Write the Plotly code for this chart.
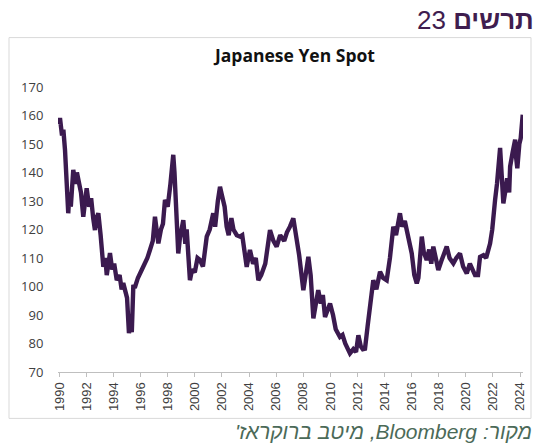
import plotly.graph_objects as go

# ---- data (decimal year, JPY per USD) ----
years = [1990.0, 1990.05, 1990.2, 1990.3, 1990.42, 1990.55, 1990.66, 1990.75, 1990.85,
         1991.03, 1991.2, 1991.3, 1991.4, 1991.6, 1991.77, 1991.9, 1992.02, 1992.2,
         1992.35, 1992.5, 1992.63, 1992.75, 1992.88, 1993.05, 1993.25, 1993.4, 1993.5,
         1993.74, 1993.9, 1994.05, 1994.24, 1994.45, 1994.6, 1994.72, 1994.9, 1995.0,
         1995.14, 1995.25, 1995.35, 1995.46, 1995.6, 1995.8, 1996.08, 1996.3, 1996.5,
         1996.69, 1996.9, 1997.06, 1997.2, 1997.31, 1997.5, 1997.65, 1997.8, 1998.0,
         1998.2, 1998.3, 1998.41, 1998.5, 1998.6, 1998.78, 1998.9, 1999.0, 1999.15,
         1999.3, 1999.4, 1999.64, 1999.8, 2000.0, 2000.2, 2000.38, 2000.6, 2000.88,
         2001.1, 2001.36, 2001.5, 2001.7, 2001.86, 2002.0, 2002.2, 2002.35, 2002.5,
         2002.7, 2002.85, 2003.1, 2003.33, 2003.5, 2003.83, 2004.07, 2004.3, 2004.5,
         2004.69, 2004.9, 2005.2, 2005.55, 2005.8, 2006.04, 2006.3, 2006.6, 2006.8,
         2007.02, 2007.27, 2007.4, 2007.52, 2007.7, 2008.01, 2008.2, 2008.38, 2008.55,
         2008.75, 2008.9, 2009.11, 2009.3, 2009.45, 2009.61, 2009.8, 2009.98, 2010.2,
         2010.4, 2010.71, 2010.9, 2011.1, 2011.3, 2011.45, 2011.7, 2011.9, 2012.07,
         2012.25, 2012.4, 2012.56, 2012.75, 2012.93, 2013.17, 2013.4, 2013.67, 2013.9,
         2014.16, 2014.4, 2014.65, 2014.85, 2015.14, 2015.3, 2015.5, 2015.64, 2015.8,
         2016.01, 2016.2, 2016.38, 2016.5, 2016.75, 2016.9, 2017.11, 2017.3, 2017.45,
         2017.6, 2017.8, 2017.97, 2018.2, 2018.4, 2018.59, 2018.8, 2019.08, 2019.3,
         2019.57, 2019.8, 2020.07, 2020.3, 2020.5, 2020.68, 2020.9, 2021.05, 2021.3,
         2021.5, 2021.79, 2021.95, 2022.16, 2022.3, 2022.53, 2022.65, 2022.77, 2022.9,
         2023.05, 2023.2, 2023.27, 2023.45, 2023.64, 2023.72, 2023.8, 2023.95, 2024.05,
         2024.2]
usdjpy = [157, 159.1, 153, 155, 148, 135, 125.7, 133, 128,
          140.9, 136, 140, 137.4, 133, 124.5, 130, 134.5, 128,
          131, 124, 119.8, 124, 125.7, 118, 106.9, 110, 104,
          111.7, 106, 108, 102.2, 104, 99, 101.2, 98, 96,
          83.6, 87, 84, 99.9, 100, 103, 105.8, 108, 110,
          112.8, 116, 124.5, 119, 115.1, 120, 122, 130.4, 128,
          136, 140, 146.2, 140, 132, 111.6, 117, 120, 123.3,
          115, 120, 102.2, 106, 105, 110, 109.3, 107, 117.5,
          120, 125.7, 121, 130, 135.0, 132, 128, 121.0, 118,
          124, 120, 118, 117.5, 118, 106.9, 112.8, 108, 110,
          102.2, 104, 108, 119.8, 116, 114.0, 118, 116, 119,
          121.0, 123.9, 120, 115.1, 111, 98.7, 104, 110.4, 104,
          88.8, 93, 98.7, 94, 97, 89.3, 92, 94.0, 90,
          85, 82.3, 83, 80, 78, 76.5, 78, 77, 82.9,
          79, 78, 78.2, 86, 94.0, 102.2, 99, 105.2, 103,
          102.2, 110, 121.0, 118, 125.7, 121, 123, 119.8, 116,
          111.6, 104, 101.1, 103, 117.5, 112, 109.3, 113, 108,
          114.0, 110, 105.8, 109, 112, 114.0, 110, 108.1, 110,
          111.6, 107, 104.6, 108, 106, 104.0, 104, 110.4, 111,
          110, 115.1, 120, 130.4, 136, 148.6, 138, 129.2, 133,
          138, 133, 142.1, 147, 151.5, 145, 141.5, 150, 152,
          160.3]

tick_years = list(range(1990, 2025, 2))
tick_labels = [str(y) for y in tick_years]
y_ticks = list(range(70, 171, 10))

chart_title = "Japanese Yen Spot"
heading = "23 <b>תרשים</b>"
source_note = "\u202bמקור: Bloomberg, מיטב ברוקראז'\u202c"

# ---- layout geometry (pixels) ----
W, H = 539, 443
PL, PR, PT, PB = 58, 523, 87.3, 371.7  # plot area edges


def px_x(x):
    return (x - PL) / (PR - PL)


def px_y(y):
    return (PB - y) / (PB - PT)


fig = go.Figure()
fig.add_trace(go.Scatter(
    x=years, y=usdjpy, mode="lines",
    line=dict(color="#3b1a4f", width=4.4),
    hoverinfo="x+y", showlegend=False,
))

fig.update_layout(
    width=W, height=H,
    margin=dict(l=PL, r=W - PR, t=PT, b=H - PB, pad=0),
    paper_bgcolor="white", plot_bgcolor="white",
    font=dict(family="Liberation Sans, Arial", color="#404040"),
    xaxis=dict(
        range=[1989.904, 2024.22],
        tickmode="array", tickvals=tick_years, ticktext=tick_labels,
        tickangle=-90, tickfont=dict(size=13, color="#404040"),
        showgrid=False, zeroline=False,
        showline=True, linecolor="#bfbfbf", linewidth=1,
        ticks="outside", ticklen=4, tickcolor="#bfbfbf",
    ),
    yaxis=dict(
        range=[70, 170],
        tickmode="array", tickvals=y_ticks,
        tickfont=dict(family="Open Sans, Liberation Sans", size=13, color="#404040"),
        showgrid=False, zeroline=False, showline=False,
        ticks="outside", ticklen=11, tickcolor="rgba(0,0,0,0)",
    ),
    shapes=[dict(
        type="rect", xref="paper", yref="paper",
        x0=px_x(9), x1=px_x(531), y0=px_y(418), y1=px_y(38),
        line=dict(color="#d9d9d9", width=1), fillcolor="rgba(0,0,0,0)", layer="below",
    )],
    annotations=[
        dict(text="<b>" + chart_title + "</b>", xref="paper", yref="paper",
             x=px_x(294), y=px_y(55), xanchor="center", yanchor="middle",
             showarrow=False,
             font=dict(family="Open Sans, Liberation Sans", size=17.5, color="#111111")),
        dict(text=heading, xref="paper", yref="paper",
             x=px_x(536), y=px_y(20), xanchor="right", yanchor="middle",
             showarrow=False,
             font=dict(family="Liberation Sans, Arial", size=26, color="#3f1d4f")),
        dict(text="<i>" + source_note + "</i>", xref="paper", yref="paper",
             x=px_x(534), y=px_y(431), xanchor="right", yanchor="middle",
             showarrow=False,
             font=dict(family="Liberation Sans, Arial", size=21, color="#4b6a58")),
    ],
)

fig.write_html("out.html")
